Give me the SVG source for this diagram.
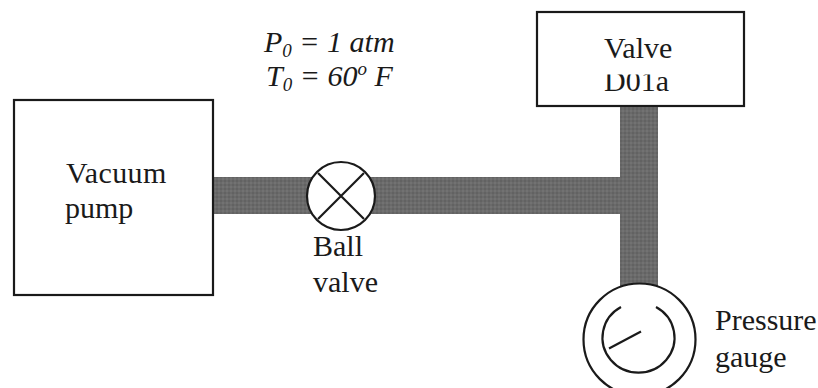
<svg xmlns="http://www.w3.org/2000/svg" width="818" height="388" viewBox="0 0 818 388">
<style>
text{font-family:"Liberation Serif","Times New Roman",serif;font-size:30px;fill:#1a1a1a}
.i{font-style:italic}
.s{font-size:19px}
.b{fill:#fff;stroke:#1a1a1a;stroke-width:2.2}
.l{fill:none;stroke:#1a1a1a;stroke-width:2.2}
.p{fill:url(#t)}
</style>
<defs>
<clipPath id="c"><rect x="537" y="74.5" width="207" height="32"/></clipPath>
<pattern id="t" width="4" height="4" patternUnits="userSpaceOnUse">
<rect width="4" height="4" fill="#6a6a6a"/>
<rect width="2" height="2" fill="#626262"/>
<rect x="2" y="2" width="2" height="2" fill="#727272"/>
</pattern>
</defs>
<rect width="818" height="388" fill="#fff"/>
<g id="connectors">
<rect class="p" x="213" y="177" width="420" height="37"/>
<rect class="p" x="620" y="106" width="38" height="180"/>
</g>
<g id="vacuum-pump">
<rect class="b" x="14" y="100" width="199" height="195"/>
<text x="66" y="183" letter-spacing="0.4">Vacuum</text>
<text x="65" y="218">pump</text>
</g>
<g id="ball-valve">
<circle class="b" cx="341" cy="196" r="34"/>
<path class="l" d="M318 173L364 219M364 173L318 219"/>
<text x="313" y="256">Ball</text>
<text x="313" y="292">valve</text>
</g>
<g id="valve-d01a">
<rect class="b" x="537" y="12" width="207" height="94"/>
<text x="604" y="58">Valve</text>
<text x="604" y="91" clip-path="url(#c)">D01a</text>
</g>
<g id="pressure-gauge">
<circle class="b" cx="639.5" cy="339.5" r="56"/>
<path class="l" d="M621 307A36 35 0 1 0 656 307"/>
<path class="l" d="M609 348.5L641 331.5"/>
<text x="715" y="330">Pressure</text>
<text x="715" y="367">gauge</text>
</g>
<g id="conditions">
<text class="i" x="264" y="52">P<tspan class="s" dy="5">0</tspan><tspan dy="-5"> = 1 atm</tspan></text>
<text class="i" x="266" y="86">T<tspan class="s" dy="5">0</tspan><tspan dy="-5"> = 60</tspan><tspan class="s" dy="-11">o</tspan><tspan dy="11"> F</tspan></text>
</g>
</svg>
